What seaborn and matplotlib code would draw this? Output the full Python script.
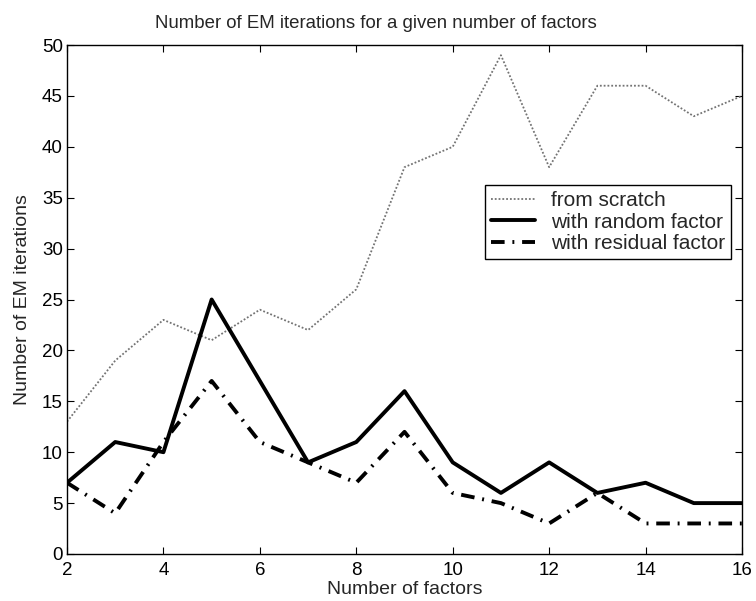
import matplotlib
matplotlib.use("Agg")
import matplotlib.pyplot as plt
import seaborn as sns
import numpy as np

factors = [2, 3, 4, 5, 6, 7, 8, 9, 10, 11, 12, 13, 14, 15, 16]
from_scratch = [13, 19, 23, 21, 24, 22, 26, 38, 40, 49, 38, 46, 46, 43, 45]
random_factor = [7, 11, 10, 25, 17, 9, 11, 16, 9, 6, 9, 6, 7, 5, 5]
residual_factor = [7, 4, 11, 17, 11, 9, 7, 12, 6, 5, 3, 6, 3, 3, 3]
xticks = [2, 4, 6, 8, 10, 12, 14, 16]
yticks = [0, 5, 10, 15, 20, 25, 30, 35, 40, 45, 50]

sns.set_style("ticks")
plt.rcParams['font.family'] = ['Liberation Sans', 'DejaVu Sans']
plt.rcParams['xtick.direction'] = 'in'
plt.rcParams['ytick.direction'] = 'in'

fig = plt.figure(figsize=(7.56, 6.01), dpi=100)
ax = fig.add_axes([67/756, 1-554/601, (742-67)/756, (554-45)/601])

sns.lineplot(x=factors, y=from_scratch, ax=ax, color='0.45', linewidth=1.3,
             linestyle=(0, (1, 1.1)), label='from scratch')
sns.lineplot(x=factors, y=random_factor, ax=ax, color='black', linewidth=2.8,
             linestyle='-', label='with random factor')
sns.lineplot(x=factors, y=residual_factor, ax=ax, color='black', linewidth=2.8,
             linestyle=(0, (3.5, 2.0, 0.5, 2.0)), label='with residual factor')

ax.set_xlim(2, 16)
ax.set_ylim(0, 50)
ax.set_xticks(xticks)
ax.set_yticks(yticks)
ax.tick_params(axis='both', which='both', direction='in', length=5, width=0.8,
               top=True, right=True, labelsize=13.5, colors='black')
ax.tick_params(axis='x', pad=6)
ax.tick_params(axis='y', pad=3)
for s in ax.spines.values():
    s.set_visible(True)
    s.set_linewidth(1.0)
    s.set_color('black')

ax.set_title('Number of EM iterations for a given number of factors', fontsize=13.4,
             pad=12, x=0.458)
ax.set_xlabel('Number of factors', fontsize=14, labelpad=1)
ax.set_ylabel('Number of EM iterations', fontsize=14, labelpad=8)

leg = ax.legend(loc='upper right', bbox_to_anchor=(0.9837, 0.725), fontsize=15,
                frameon=True, fancybox=False, edgecolor='black', framealpha=1,
                borderpad=0.3, labelspacing=0.12, handlelength=2.1, handletextpad=0.75,
                borderaxespad=0)
leg.get_frame().set_linewidth(1.0)

fig.savefig('out.png', dpi=100)
